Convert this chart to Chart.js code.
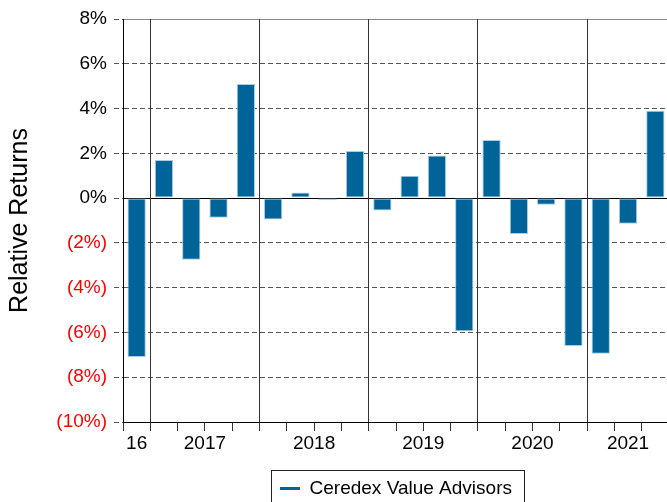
<!DOCTYPE html>
<html>
<head>
<meta charset="utf-8">
<script src="https://cdn.jsdelivr.net/npm/chart.js@4.4.1/dist/chart.umd.min.js"></script>
<style>
html, body { margin: 0; padding: 0; overflow: hidden; background: #fff; }
canvas { display: block; }
</style>
</head>
<body>
<canvas id="returns-chart" width="670" height="512"></canvas>
<script>
// quarterly relative returns, 4Q16 .. 3Q21
var quarters = ["4Q16", "1Q17", "2Q17", "3Q17", "4Q17", "1Q18", "2Q18", "3Q18", "4Q18",
    "1Q19", "2Q19", "3Q19", "4Q19", "1Q20", "2Q20", "3Q20", "4Q20", "1Q21", "2Q21", "3Q21"];
var relativeReturns = [-7.1, 1.7, -2.75, -0.88, 5.1, -0.95, 0.25, -0.1, 2.1,
    -0.55, 1.0, 1.9, -5.95, 2.6, -1.6, -0.3, -6.6, -6.95, -1.15, 3.9];
var yearLabels = ["16", "2017", "2018", "2019", "2020", "2021"];
var yearLabelPositions = [0, 2.5, 6.5, 10.5, 14.5, 18];
var yearBoundaries = [1, 5, 9, 13, 17];
var seriesName = "Ceredex Value Advisors";

Chart.defaults.font.family = "'Liberation Sans', Arial, sans-serif";
Chart.defaults.color = "#000";

var barColor = "#006499";

var legendBorder = {
    id: "legendBorder",
    afterDraw: function(chart) {
        var box = chart.legend.legendHitBoxes[0];
        if (!box) return;
        var c = chart.ctx;
        c.save();
        c.strokeStyle = "#222";
        c.lineWidth = 1;
        c.strokeRect(Math.round(box.left - 9) + 0.5, Math.round(box.top - 9) + 0.5,
            Math.round(box.width + 21), Math.round(box.height + 18));
        c.restore();
    }
};

var ctx = document.getElementById("returns-chart").getContext("2d");

new Chart(ctx, {
    type: "bar",
    data: {
    labels: quarters,
    datasets: [{
        label: seriesName,
        data: relativeReturns,
        backgroundColor: barColor,
        borderColor: "#a9cde3",
        borderWidth: 1,
        borderSkipped: false,
        barPercentage: 0.67,
        categoryPercentage: 1
    }]
    },
    plugins: [legendBorder],
    options: {
    responsive: false,
    animation: false,
    layout: {
        padding: { top: 19, left: 0, right: 1, bottom: 4 }
    },
    plugins: {
        legend: {
        position: "bottom",
        fullSize: false,
        labels: {
            boxWidth: 20,
            boxHeight: 3,
            padding: 10,
            color: "#000",
            font: { size: 19 },
            generateLabels: function(chart) {
            return [{
                text: seriesName,
                fillStyle: barColor,
                strokeStyle: barColor,
                lineWidth: 0,
                datasetIndex: 0
            }];
            }
        }
        },
        tooltip: { enabled: false }
    },
    scales: {
        y: {
        min: -10,
        max: 8,
        afterFit: function(scale) { scale.width = 123; },
        title: {
            display: true,
            text: "Relative Returns",
            color: "#000",
            font: { size: 25 },
            padding: { top: 5, bottom: 0 }
        },
        ticks: {
            stepSize: 2,
            padding: 7,
            font: { size: 19 },
            color: function(c) { return c.tick && c.tick.value < 0 ? "#ff0000" : "#000"; },
            callback: function(v) { return v < 0 ? "(" + (-v) + "%)" : v + "%"; }
        },
        grid: {
            color: function(c) {
            if (!c.tick) return "#555";
            if (c.tick.value === 0 || c.tick.value === -10) return "#000";
            if (c.tick.value === 8) return "#8a8a8a";
            return "#555";
            },
            tickColor: "#555",
            tickLength: 9,
            tickBorderDash: [5, 3]
        },
        border: {
            color: "#000",
            dash: function(c) {
            if (c.tick && (c.tick.value === 0 || c.tick.value === 8 || c.tick.value === -10)) return [];
            return [5, 3];
            }
        }
        },
        x: {
        afterFit: function(scale) { scale.height = 9; },
        ticks: { display: false },
        grid: {
            offset: true,
            color: function(c) {
            return yearBoundaries.indexOf(c.index) >= 0 && c.tick ? "#333" : "rgba(0,0,0,0)";
            },
            tickColor: "#333",
            tickLength: 9
        },
        border: { color: "#000" }
        },
        x2: {
        type: "linear",
        position: "bottom",
        weight: 1,
        offset: false,
        min: -0.5,
        max: 19.5,
        afterBuildTicks: function(scale) {
            scale.ticks = yearLabelPositions.map(function(v) { return { value: v }; });
        },
        afterFit: function(scale) { scale.height = 38; },
        grid: { display: false, drawTicks: false, tickLength: 0 },
        border: { display: false },
        ticks: {
            autoSkip: false,
            maxRotation: 0,
            padding: 1,
            color: "#000",
            font: { size: 19 },
            callback: function(v, i) { return yearLabels[i]; }
        }
        }
    }
    }
});
</script>
</body>
</html>
